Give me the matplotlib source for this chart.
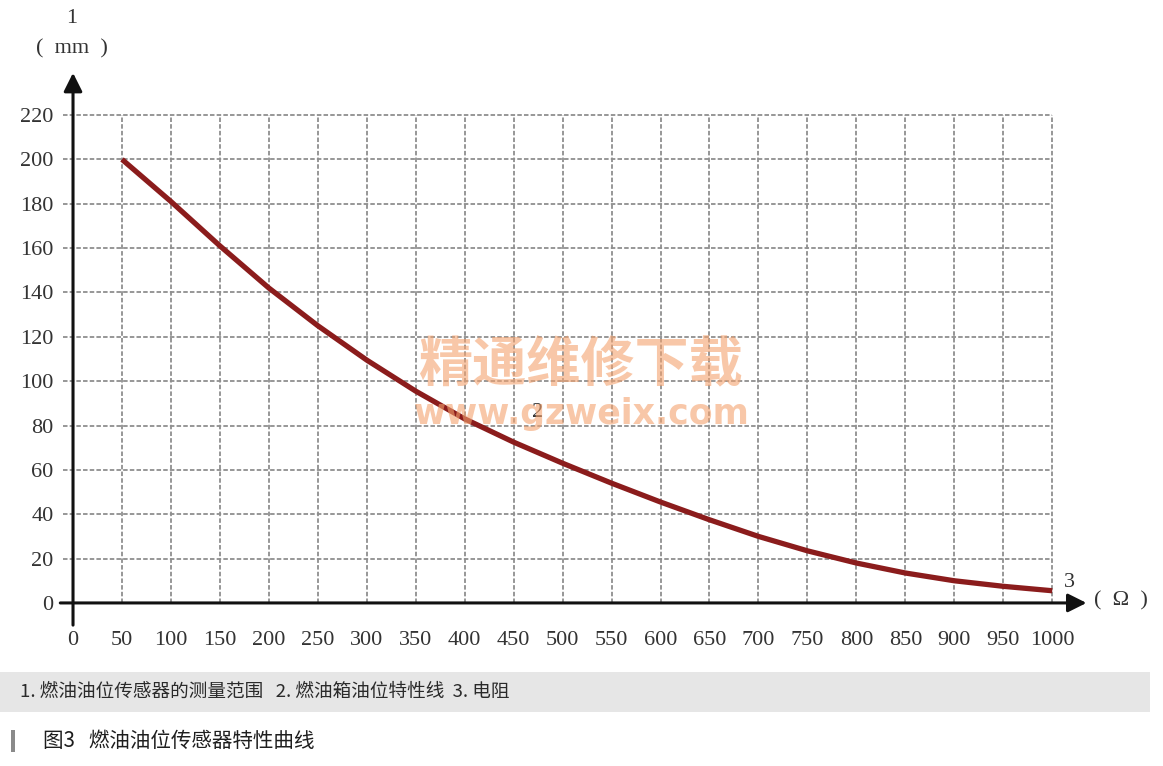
import matplotlib
matplotlib.use('Agg')
import matplotlib.pyplot as plt
import numpy as np

# Dane krzywej
opor = [50, 100, 150, 200, 250, 300, 350, 400, 450, 500,
        550, 600, 650, 700, 750, 800, 850, 900, 950, 1000]
poziom = [200, 181, 161, 142, 125, 109.5, 95.5, 83, 72.5, 63,
          54, 45.5, 37.5, 30, 23.5, 18, 13.5, 10, 7.5, 5.5]

x_ticks = list(range(0, 1001, 50))
y_ticks = list(range(0, 221, 20))

legenda = '1. 燃油油位传感器的测量范围   2. 燃油箱油位特性线  3. 电阻'
tytul = '图3   燃油油位传感器特性曲线'

W, H = 1163, 766
fig = plt.figure(figsize=(W / 100, H / 100), dpi=100)
fig.patch.set_facecolor('white')


def px(x, y):
    return x / W, 1 - y / H


# Obszar wykresu
ax = fig.add_axes([55 / W, 1 - 630 / H, 1045 / W, 560 / H])
ax.set_xlim(-18.4, 1048.8)
ax.set_ylim(-12.2, 240.3)
ax.patch.set_alpha(0)

for s in ['top', 'right']:
    ax.spines[s].set_visible(False)
ax.spines['left'].set_position(('data', 0))
ax.spines['bottom'].set_position(('data', 0))
ax.spines['left'].set_visible(False)
ax.spines['bottom'].set_visible(False)

serif = 'Liberation Serif'
ax.set_xticks(x_ticks)
ax.set_xticklabels([str(v) for v in x_ticks], fontfamily=serif, fontsize=16, color='#333333')
ax.set_yticks(y_ticks)
ax.set_yticklabels([str(v) for v in y_ticks], fontfamily=serif, fontsize=16, color='#333333')
ax.tick_params(axis='x', length=0, pad=20)
ax.tick_params(axis='y', length=0, pad=14)

# Siatka
grid_kw = dict(color='#8f8f8f', lw=1.3, ls=(0, (2.5, 1.2)), zorder=1)
ax.hlines(y_ticks[1:], -10, 1000, **grid_kw)
ax.vlines(x_ticks[1:], 0, 220, **grid_kw)

# Osie ze strzałkami
arrow_kw = dict(arrowstyle='-|>', color='#111111', lw=2.2, mutation_scale=28,
                shrinkA=0, shrinkB=0)
ax.annotate('', xy=(1035, 0), xytext=(-13, 0), arrowprops=arrow_kw, zorder=3)
ax.annotate('', xy=(0, 239), xytext=(0, -10), arrowprops=arrow_kw, zorder=3)

# Krzywa
ax.plot(opor, poziom, color='#8b1c1c', lw=3.8, solid_capstyle='butt',
        solid_joinstyle='round', zorder=4)

# Opisy
ax.text(-1, 263.5, '1', fontfamily=serif, fontsize=16, color='#333333',
        ha='center', va='center', clip_on=False)
ax.text(-1, 250, '(  mm  )', fontfamily=serif, fontsize=16, color='#333333',
        ha='center', va='center', clip_on=False)
ax.text(1018, 9, '3', fontfamily=serif, fontsize=16, color='#333333',
        ha='center', va='center', clip_on=False)
ax.text(1070, 1, '(  Ω  )', fontfamily=serif, fontsize=16, color='#333333',
        ha='center', va='center', clip_on=False)
ax.text(474, 86, '2', fontfamily=serif, fontsize=16, color='#333333',
        ha='center', va='center', zorder=5)

# Znak wodny
fig.text(*px(580, 366), '精通维修下载', fontfamily='Noto Sans CJK SC', fontweight='bold',
         fontsize=39, color='#f4a26e', alpha=0.6, ha='center', va='center')
fig.text(*px(582, 414), 'www.gzweix.com', fontfamily='DejaVu Sans', fontweight='bold',
         fontsize=25, color='#f4a26e', alpha=0.6, ha='center', va='center')

# Podpis
cjk = ['Noto Sans CJK SC', 'DejaVu Sans']
fig.patches.append(plt.Rectangle(px(0, 712), 1150 / W, 40 / H, transform=fig.transFigure,
                                 facecolor='#e6e6e6', edgecolor='none'))
fig.text(*px(20, 692), legenda, fontfamily=cjk, fontsize=13.4, color='#2a2a2a',
         ha='left', va='center')
fig.patches.append(plt.Rectangle(px(11, 752), 4 / W, 22 / H, transform=fig.transFigure,
                                 facecolor='#8a8a8a', edgecolor='none'))
fig.text(*px(43, 741), tytul, fontfamily=cjk, fontsize=14.8, color='#1e1e1e',
         ha='left', va='center')

fig.savefig('out.png', dpi=100)
